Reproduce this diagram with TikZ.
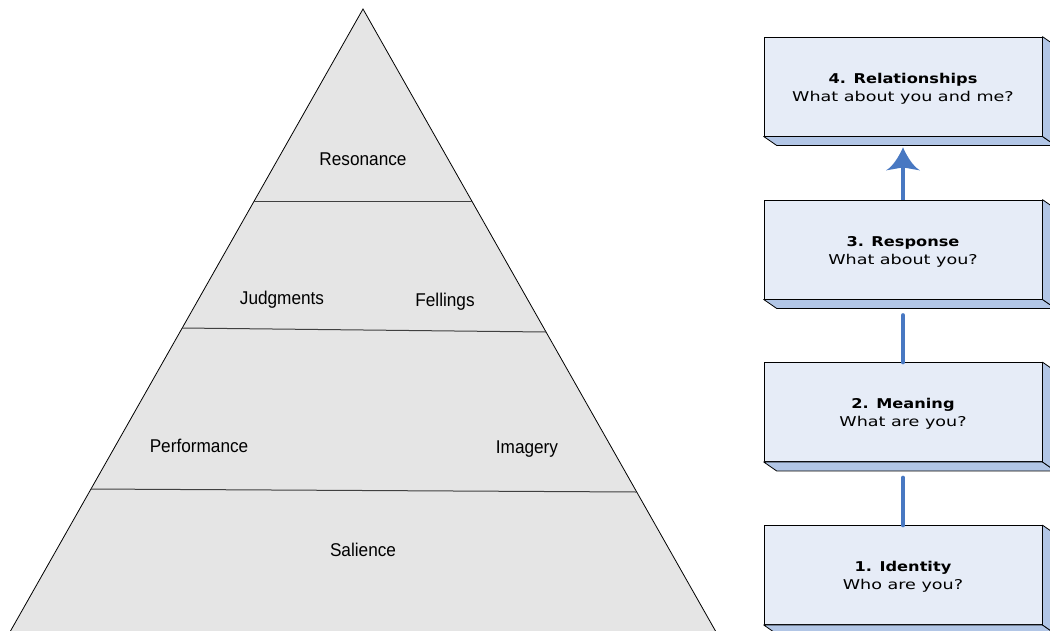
\documentclass[tikz,border=0pt]{standalone}
\usepackage{fontspec}
\setmainfont{Liberation Sans}
\newfontfamily\pyrfont[FakeStretch=0.93]{Liberation Sans}
\newfontfamily\boxreg[FakeStretch=1.3]{DejaVu Sans}
\newfontfamily\boxbold[FakeStretch=1.2]{DejaVu Sans Bold}
\usetikzlibrary{arrows.meta,calc}
\definecolor{pyrfill}{RGB}{229,229,229}
\definecolor{facefill}{RGB}{230,236,247}
\definecolor{slabfill}{RGB}{178,198,230}
\definecolor{connblue}{RGB}{72,120,194}
\newcommand\boxslab[1]{%
  \filldraw[slabsty] (#1.south west) -- ++(13,9) -- ($(#1.south east)+(13,9)$) -- (#1.south east) -- cycle;
  \filldraw[slabsty] (#1.north east) -- ++(13,9) -- ($(#1.south east)+(13,9)$) -- (#1.south east) -- cycle;}
\begin{document}
\begin{tikzpicture}[x=1pt,y=-1pt,
  pyr/.style={fill=pyrfill,draw=black,line width=0.8pt},
  divider/.style={draw=black!75,line width=1pt},
  pyrlabel/.style={anchor=base,inner sep=0pt,font=\pyrfont\fontsize{18.5}{22}\selectfont},
  levelbox/.style={draw=black,fill=facefill,line width=0.8pt,minimum width=278,minimum height=99,inner sep=0pt,align=center,font=\boxreg\fontsize{13.5}{18}\selectfont},
  slabsty/.style={fill=slabfill,draw=black,line width=0.8pt,line join=round},
  conn/.style={draw=connblue,line width=4.5pt,line cap=round},
  headsty/.style={fill=connblue}]
\clip (0,0) rectangle (1050,630);
\fill[white] (0,0) rectangle (1050,630);
% pyramid
\filldraw[pyr] (363,9) -- (720.6,640) -- (5.4,640) -- cycle;
\draw[divider] (254.2,201) -- (471.8,201);
\draw[divider] (182.2,328) -- (546,332);
\draw[divider] (91,489) -- (636.7,492);
\node[pyrlabel] (res) at (363,165) {Resonance};
\node[pyrlabel] (jud) at (282,304) {Judgments};
\node[pyrlabel] (fel) at (445,306) {Fellings};
\node[pyrlabel] (perf) at (199,452) {Performance};
\node[pyrlabel] (img) at (527,453) {Imagery};
\node[pyrlabel] (sal) at (363,556.5) {Salience};
% level boxes
\node[levelbox] (b4) at (903,86.5) {{\boxbold\rule{0pt}{14pt}4. Relationships}\\What about you and me?};
\node[levelbox] (b3) at (903,249.5) {{\boxbold\rule{0pt}{14pt}3. Response}\\What about you?};
\node[levelbox] (b2) at (903,412) {{\boxbold\rule{0pt}{14pt}2. Meaning}\\What are you?};
\node[levelbox] (b1) at (903,575) {{\boxbold\rule{0pt}{14pt}1. Identity}\\Who are you?};
\boxslab{b4}\boxslab{b3}\boxslab{b2}\boxslab{b1}
% connectors
\coordinate (tip) at ($(b4.south)+(0,11)$);
\coordinate (headback) at ($(tip)+(0,20)$);
\draw[conn,line cap=butt] (b3.north) -- (headback);
\fill[headsty] (tip)
  .. controls ($(tip)+(-4,9)$) and ($(tip)+(-10,19)$) .. ($(tip)+(-17,23)$)
  -- (headback) -- ($(tip)+(17,23)$)
  .. controls ($(tip)+(10,19)$) and ($(tip)+(4,9)$) .. (tip) -- cycle;
\draw[conn] (b2.north) -- ($(b3.south)+(0,16)$);
\draw[conn] (b1.north) -- ($(b2.south)+(0,16)$);
\end{tikzpicture}
\end{document}
